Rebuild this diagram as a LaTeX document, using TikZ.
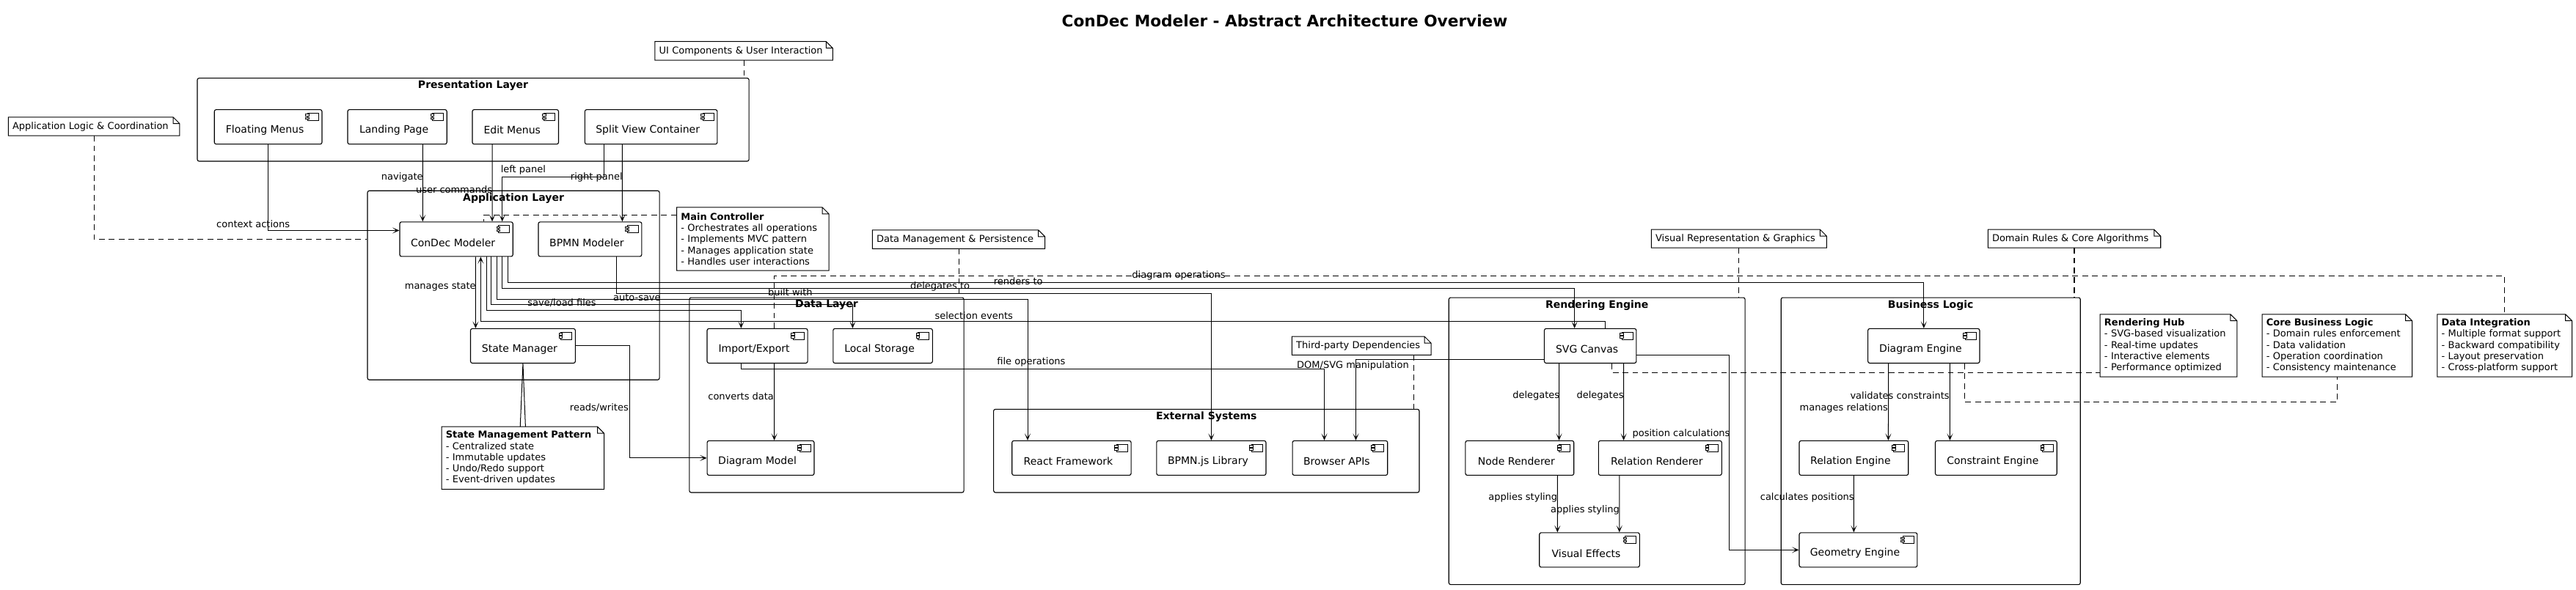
\documentclass[tikz,border=0pt]{standalone}
\usepackage{fontspec}
\setmainfont{DejaVu Sans}
\usetikzlibrary{arrows.meta}
\newcommand\compfont{\fontsize{17.8}{21}\selectfont}
\newcommand\edgefont{\fontsize{16.5}{19.3}\selectfont}
\newcommand\layerfont{\fontsize{17.8}{21}\selectfont\bfseries}
\newcommand\headfont{\fontsize{27.5}{32}\selectfont\bfseries}
\tikzset{
  comp/.style 2 args={draw, line width=0.5mm, rounded corners=1.1mm, minimum width=#1mm, minimum height=21mm, inner sep=0pt,
    label={[font=\compfont, xshift=-2mm, yshift=-2mm]center:#2},
    path picture={
      \coordinate (ic) at ([xshift=-2.2mm,yshift=-2.2mm]path picture bounding box.north east);
      \draw[line width=0.35mm, sharp corners] ([xshift=-6.7mm]ic) rectangle ([yshift=-4.5mm]ic);
      \draw[line width=0.35mm, sharp corners, fill=white] ([xshift=-7.75mm,yshift=-0.6mm]ic) rectangle ++(2.1mm,-1.07mm);
      \draw[line width=0.35mm, sharp corners, fill=white] ([xshift=-7.75mm,yshift=-2.4mm]ic) rectangle ++(2.1mm,-1.07mm);
    }},
  layer/.style={draw, line width=0.5mm, rounded corners=1.1mm, inner sep=0pt},
  ltitle/.style={font=\layerfont, inner sep=0pt},
  note/.style 2 args={font=\edgefont, align=left, text width=#1mm, minimum height=#2mm, inner xsep=2.5mm, inner ysep=0pt},
  elbl/.style={font=\edgefont, inner sep=0pt},
  arr/.style={line width=0.45mm, -{Stealth[length=4.2mm,width=3.6mm,inset=2.4mm]}},
  dline/.style={line width=0.45mm, dash pattern=on 3.5mm off 2.5mm},
}
\begin{document}
\begin{tikzpicture}[x=1mm, y=-1mm]
\useasboundingbox (0,0) rectangle (1568,359);
\node[font=\headfont, inner sep=0pt] (ttl) at (782,12.5) {ConDec Modeler - Abstract Architecture Overview};

% layers
\node[layer, minimum width=335.8mm, minimum height=50.6mm] (pres) at (288,72.9) {};
\node[layer, minimum width=177.7mm, minimum height=115.2mm] (app) at (312.55,173.8) {};
\node[layer, minimum width=167.1mm, minimum height=118.7mm] (data) at (503.15,240.65) {};
\node[layer, minimum width=259.1mm, minimum height=50.7mm] (ext) at (734.35,274.65) {};
\node[layer, minimum width=180.3mm, minimum height=174.8mm] (rend) at (972.05,268.7) {};
\node[layer, minimum width=182.2mm, minimum height=174.8mm] (biz) at (1175.2,268.7) {};
\node[ltitle] (presT) at ([yshift=-4.8mm]pres.north) {Presentation Layer};
\node[ltitle] (appT) at ([yshift=-4.8mm]app.north) {Application Layer};
\node[ltitle] (dataT) at ([yshift=-4.8mm]data.north) {Data Layer};
\node[ltitle] (extT) at ([yshift=-4.8mm]ext.north) {External Systems};
\node[ltitle] (rendT) at ([yshift=-4.8mm]rend.north) {Rendering Engine};
\node[ltitle] (bizT) at ([yshift=-4.8mm]biz.north) {Business Logic};

% components
\node[comp={65.5}{Floating Menus}] (fm) at (163.25,77.3) {};
\node[comp={60.4}{Landing Page}] (lp) at (241.8,77.3) {};
\node[comp={52.5}{Edit Menus}] (em) at (313.75,77.3) {};
\node[comp={80.6}{Split View Container}] (sv) at (396.3,77.3) {};
\node[comp={68.9}{ConDec Modeler}] (cdm) at (277.75,145.7) {};
\node[comp={62.9}{BPMN Modeler}] (bpm) at (359.15,145.7) {};
\node[comp={63.8}{State Manager}] (sm) at (318.3,210.7) {};
\node[comp={61.2}{Import/Export}] (imp) at (461,210.7) {};
\node[comp={60.5}{Local Storage}] (ls) at (537.35,210.7) {};
\node[comp={65.1}{Diagram Model}] (dm) at (463,279) {};
\node[comp={72.5}{React Framework}] (rf) at (652.25,279) {};
\node[comp={66.6}{BPMN.js Library}] (bj) at (737.3,279) {};
\node[comp={57.9}{Browser APIs}] (ba) at (815.65,279) {};
\node[comp={56}{SVG Canvas}] (svg) at (968,210.7) {};
\node[comp={66}{Node Renderer}] (nr) at (925,279) {};
\node[comp={75}{Relation Renderer}] (rr) at (1010.5,279) {};
\node[comp={61}{Visual Effects}] (ve) at (967.5,335) {};
\node[comp={68}{Diagram Engine}] (de) at (1171,210.7) {};
\node[comp={66.4}{Relation Engine}] (re) at (1128.4,279) {};
\node[comp={74}{Constraint Engine}] (ce) at (1215,279) {};
\node[comp={71.8}{Geometry Engine}] (ge) at (1131.1,335) {};

% notes
\node[note={103.1}{11.2}] (nUI) at (452.75,31) {UI Components \& User Interaction};
\node[note={99.2}{11.2}] (nApp) at (57.2,77) {Application Logic \& Coordination};
\node[note={87.5}{38.3}] (nMain) at (458.25,145.55) {\textbf{Main Controller}\\- Orchestrates all operations\\- Implements MVC pattern\\- Manages application state\\- Handles user interactions};
\node[note={93.7}{38}] (nSM) at (318.25,279) {\textbf{State Management Pattern}\\- Centralized state\\- Immutable updates\\- Undo/Redo support\\- Event-driven updates};
\node[note={99.9}{11.2}] (nData) at (583.55,145.8) {Data Management \& Persistence};
\node[note={79.5}{11.1}] (nTP) at (828.75,210.6) {Third-party Dependencies};
\node[note={101.6}{11}] (nVis) at (1058.5,145.4) {Visual Representation \& Graphics};
\node[note={100}{11}] (nDom) at (1262.6,145.4) {Domain Rules \& Core Algorithms};
\node[note={78.2}{38}] (nRH) at (1320,210.5) {\textbf{Rendering Hub}\\- SVG-based visualization\\- Real-time updates\\- Interactive elements\\- Performance optimized};
\node[note={86.2}{38}] (nCore) at (1422.6,210.5) {\textbf{Core Business Logic}\\- Domain rules enforcement\\- Data validation\\- Operation coordination\\- Consistency maintenance};
\node[note={76.9}{38}] (nDI) at (1524.55,210.5) {\textbf{Data Integration}\\- Multiple format support\\- Backward compatibility\\- Layout preservation\\- Cross-platform support};
\foreach \n in {nUI,nApp,nMain,nSM,nData,nTP,nVis,nDom,nRH,nCore,nDI}
  \draw[line width=0.45mm] (\n.north west) -- ([xshift=-4mm]\n.north east) -- ([yshift=-4mm]\n.north east) -- (\n.south east) -- (\n.south west) -- cycle
    ([xshift=-4mm]\n.north east) |- ([yshift=-4mm]\n.north east);

% presentation -> application
\draw[arr] (fm.south) |- ([yshift=5.3mm]cdm.west) node[elbl] at (154.1,136.6) {context actions};
\draw[arr] ([xshift=15.5mm]lp.south) -- ([xshift=-20.45mm]cdm.north) node[elbl] at (244.8,107.9) {navigate};
\draw[arr] ([xshift=-14.15mm]em.south) -- ([xshift=21.85mm]cdm.north) node[elbl] at (276.4,115.3) {user commands};
\draw[arr] ([xshift=-28.7mm]sv.south) -- ++(0,19.65) -| ([xshift=27.95mm]cdm.north) node[elbl] at (318.5,103.4) {left panel};
\draw[arr] ([xshift=-17.5mm]sv.south) -- ([xshift=19.65mm]bpm.north) node[elbl] at (363.1,107.9) {right panel};

% application
\draw[arr] ([xshift=11.75mm]cdm.south) -- ([xshift=-28.8mm]sm.north) node[elbl] at (268,174.6) {manages state};
\draw[arr] ([xshift=9.1mm]svg.north) -- ++(0,-4.2) -| ([xshift=14.85mm]cdm.south) node[elbl] at (592.8,192.3) {selection events};
\draw[arr] ([xshift=18.45mm]cdm.south) -- ++(0,32.45) -| ([xshift=-9.9mm]imp.north) node[elbl] at (342,184.5) {save/load files};
\draw[arr] ([xshift=21.35mm]cdm.south) -- ++(0,28.9) -| ([xshift=-18.35mm]ls.north) node[elbl] at (387.7,181.1) {auto-save};
\draw[arr] ([xshift=24.65mm]cdm.south) -- ++(0,25.9) -| ([xshift=-26.75mm]rf.north) node[elbl] at (481,177.9) {built with};
\draw[arr] ([xshift=16.25mm]bpm.south) -- ++(0,22.3) -| (bj.north) node[elbl] at (572.2,174.4) {delegates to};
\draw[arr] ([xshift=27.95mm]cdm.south) -- ++(0,19.2) -| ([xshift=-9.6mm]svg.north) node[elbl] at (619.8,171.2) {renders to};
\draw[arr] ([xshift=31.35mm]cdm.south) -- ++(0,15.5) -| (de.north) node[elbl] at (717.5,167.7) {diagram operations};
\draw[arr] (sm.east) -| ([xshift=-47.1mm]dm.west) -- (dm.west) node[elbl] at (364.7,248.5) {reads/writes};
\draw[line width=0.45mm] (sm.south) -- ([xshift=-1.6mm]nSM.north) (sm.south) -- ([xshift=1.6mm]nSM.north);

% data and external
\draw[arr] ([xshift=10.3mm]imp.south) -- ([xshift=8.3mm]dm.north) node[elbl] at (451,241.5) {converts data};
\draw[arr] ([xshift=-9.7mm]imp.south) -- ++(0,3.2) -| ([xshift=-9.55mm]ba.north) node[elbl] at (627.7,220.4) {file operations};
\draw[arr] ([yshift=-8.4mm]svg.west) -| ([xshift=9.65mm]ba.north) node[elbl] at (823.5,222.6) {DOM/SVG manipulation};

% rendering
\draw[arr] ([xshift=-19mm]svg.south) -- ([xshift=24mm]nr.north) node[elbl] at (935,241) {delegates};
\draw[arr] ([xshift=20.3mm]svg.south) -- ([xshift=-22.2mm]rr.north) node[elbl] at (974,241) {delegates};
\draw[arr] ([yshift=-5.5mm]svg.east) -| ([xshift=-42.2mm]ge.west) -- (ge.west) node[elbl] at (1023.3,264.3) {position calculations};
\draw[arr] ([xshift=23mm]nr.south) -- ([xshift=-19.5mm]ve.north) node[elbl] at (927,303.1) {applies styling};
\draw[arr] ([xshift=-24.8mm]rr.south) -- ([xshift=18.2mm]ve.north) node[elbl] at (964.8,310.7) {applies styling};

% business
\draw[arr] ([xshift=-21.5mm]de.south) -- ([xshift=21mm]re.north) node[elbl] at (1122.3,248.7) {manages relations};
\draw[arr] ([xshift=15.9mm]de.south) -- ([xshift=-28.1mm]ce.north) node[elbl] at (1156.4,241) {validates constraints};
\draw[arr] (re.south) -- ([xshift=-2.7mm]ge.north) node[elbl] at (1100,303.1) {calculates positions};

% note links
\draw[dline] (nUI.south) -- (nUI.south |- pres.north);
\draw[dline] (nApp.south) |- ([yshift=28.2mm]app.west);
\draw[dline] ([yshift=14.5mm]nMain.west) -| ([xshift=16.65mm]cdm.north);
\draw[dline] (nData.south) -- (nData.south |- data.north);
\draw[dline] ([xshift=10.3mm]imp.north) -- ++(0,-31.9) -| (nDI.north);
\draw[dline] ([xshift=31.9mm]nTP.south) -- ([xshift=31.9mm]nTP.south |- ext.north);
\draw[dline] (nVis.south) -- (nVis.south |- rend.north);
\draw[dline] (nDom.south) -- (nDom.south |- biz.north);
\draw[dline] ([xshift=13.1mm]svg.south) |- ([yshift=-16.4mm]nRH.west);
\draw[dline] ([xshift=24.9mm]de.south) |- ([yshift=-15.5mm]nCore.south) -- (nCore.south);
\end{tikzpicture}
\end{document}
